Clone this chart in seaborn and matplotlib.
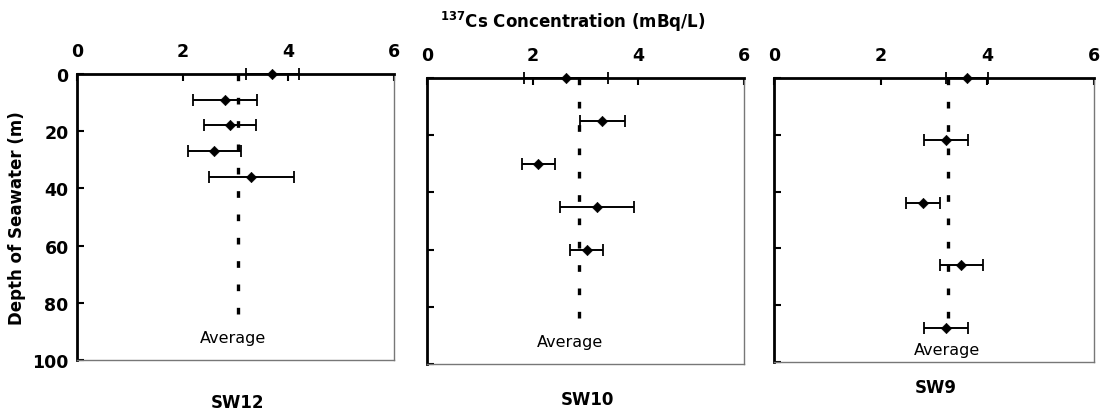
import matplotlib
matplotlib.use("Agg")
import matplotlib.pyplot as plt
import seaborn as sns
import pandas as pd

# ---- data ----
stations = ["SW12", "SW10", "SW9"]

sw12_depth = [0, 9, 18, 27, 36]
sw12_conc = [3.7, 2.8, 2.9, 2.6, 3.3]
sw12_err = [0.51, 0.6, 0.49, 0.5, 0.8]

sw10_depth = [0, 15, 30, 45, 60]
sw10_conc = [2.63, 3.32, 2.11, 3.22, 3.02]
sw10_err = [0.8, 0.43, 0.31, 0.7, 0.31]

sw9_depth = [0, 22, 44, 66, 88]
sw9_conc = [3.62, 3.22, 2.80, 3.51, 3.22]
sw9_err = [0.4, 0.41, 0.32, 0.4, 0.41]

averages = [3.04, 2.87, 3.27]
average_line_end = [87, 86, 88]

x_ticks = [0, 2, 4, 6]
y_ticks = [0, 20, 40, 60, 80, 100]

depths = [sw12_depth, sw10_depth, sw9_depth]
concs = [sw12_conc, sw10_conc, sw9_conc]
errs = [sw12_err, sw10_err, sw9_err]

sns.set_theme(style="white")
plt.rcParams["font.family"] = ["DejaVu Sans"]
plt.rcParams["text.color"] = "black"
plt.rcParams["axes.labelcolor"] = "black"
plt.rcParams["xtick.color"] = "black"
plt.rcParams["ytick.color"] = "black"

W, H = 1108, 414
fig = plt.figure(figsize=(W / 100, H / 100), dpi=100)

# panel boxes in pixels: left, top, right, bottom
boxes = [(77, 75, 394, 361), (427, 79, 744, 365), (774, 79, 1094, 363)]
avg_text = [(2.95, 92), (2.71, 92), (3.24, 95.5)]
label_y = [403, 400, 388]

for i, st in enumerate(stations):
    l, t, r, b = boxes[i]
    ax = fig.add_axes([l / W, 1 - b / H, (r - l) / W, (b - t) / H])
    df = pd.DataFrame({"depth": depths[i], "conc": concs[i], "err": errs[i]})
    ax.errorbar(df["conc"], df["depth"], xerr=df["err"], fmt="none",
                ecolor="black", elinewidth=1.4, capsize=4, capthick=1.3,
                zorder=3, clip_on=False)
    sns.scatterplot(data=df, x="conc", y="depth", ax=ax, marker="D",
                    s=28, color="black", edgecolor="black", zorder=4,
                    clip_on=False, legend=False)
    ax.vlines(averages[i], 0, average_line_end[i], colors="black",
              linestyles=(0, (2, 5)), linewidth=2.4, zorder=2)
    ax.text(avg_text[i][0], avg_text[i][1], "Average", ha="center",
            va="center", fontsize=11.5, color="black")

    ax.set_xlim(0, 6)
    ax.set_ylim(100, 0)
    ax.set_xticks(x_ticks)
    ax.set_yticks(y_ticks)
    ax.xaxis.tick_top()
    ax.tick_params(axis="x", direction="in", length=5, width=1.5,
                   top=True, bottom=False, labeltop=True, labelbottom=False,
                   pad=10, labelsize=12.5, colors="black")
    ax.tick_params(axis="y", direction="in", length=5, width=1.5,
                   left=True, right=False, labelsize=12.5, pad=6,
                   colors="black")
    for lab in ax.get_xticklabels() + ax.get_yticklabels():
        lab.set_fontweight("bold")
    if i > 0:
        ax.set_yticklabels([])
    ax.set_xlabel("")
    ax.set_ylabel("")
    ax.grid(False)
    for side in ["left", "top"]:
        ax.spines[side].set_color("black")
        ax.spines[side].set_linewidth(2)
        ax.spines[side].set_visible(True)
    for side in ["right", "bottom"]:
        ax.spines[side].set_color("#777777")
        ax.spines[side].set_linewidth(1)
        ax.spines[side].set_linestyle((0, (1, 1)))
        ax.spines[side].set_visible(True)

    fig.text(((l + r) / 2 + 2) / W, 1 - label_y[i] / H, st, ha="center",
             va="center", fontsize=12, fontweight="bold", color="black")

fig.text(17 / W, 1 - 218 / H, "Depth of Seawater (m)", rotation=90,
         ha="center", va="center", fontsize=12, fontweight="bold",
         color="black")
fig.text(573 / W, 1 - 22 / H, r"$^{\mathbf{137}}$Cs Concentration (mBq/L)",
         ha="center", va="center", fontsize=12, fontweight="bold",
         color="black")

fig.savefig("out.png", dpi=100)
